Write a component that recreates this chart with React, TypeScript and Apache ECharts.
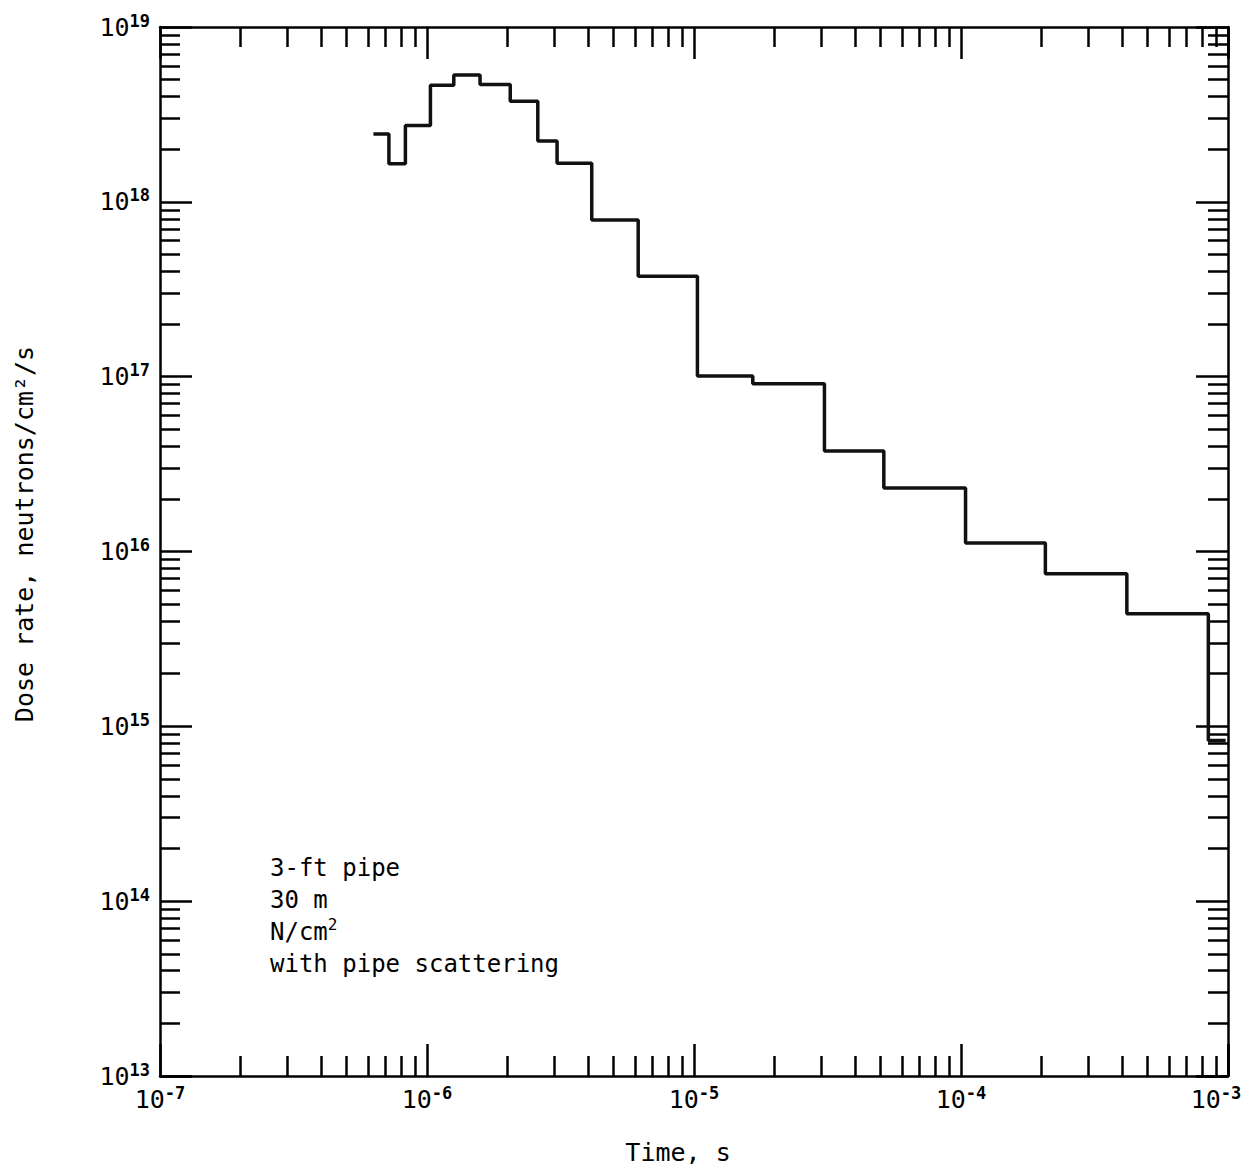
import React, { useEffect, useRef } from "react";
import * as echarts from "echarts";

// Step edges (time, s) and dose-rate level held between consecutive edges
const stepEdges = [
  6.3e-7, 7.2e-7, 8.3e-7, 1.03e-6, 1.26e-6, 1.58e-6, 2.05e-6, 2.6e-6, 3.07e-6,
  4.14e-6, 6.18e-6, 1.03e-5, 1.66e-5, 3.08e-5, 5.14e-5, 1.04e-4, 2.07e-4,
  4.18e-4, 8.44e-4, 9.8e-4,
];
const doseLevels = [
  2.44e18, 1.65e18, 2.73e18, 4.64e18, 5.31e18, 4.69e18, 3.76e18, 2.23e18,
  1.66e18, 7.87e17, 3.75e17, 1.01e17, 9.1e16, 3.76e16, 2.31e16, 1.12e16,
  7.45e15, 4.4e15, 8.3e14,
];

const xExponents = [-7, -6, -5, -4, -3];
const yExponents = [13, 14, 15, 16, 17, 18, 19];
const annotationLines = ["3-ft pipe", "30 m", "N/cm{sup|2}", "with pipe scattering"];
const xTitle = "Time, s";
const yTitle = "Dose rate, neutrons/cm²/s";

const FONT = "'DejaVu Sans Mono', 'Liberation Mono', monospace";

function powLabel(exps: number[], padLast: boolean) {
  const last = exps[exps.length - 1];
  return (v: number) => {
    const e = Math.round(Math.log10(v));
    if (exps.indexOf(e) < 0) return "";
    return padLast && e === last ? `{b|10}{s|${e}}{pad|}` : `{b|10}{s|${e}}`;
  };
}

const rich = {
  b: { fontFamily: FONT, fontSize: 25, color: "#000", lineHeight: 30 },
  s: {
    fontFamily: FONT,
    fontSize: 17,
    fontWeight: "bold",
    color: "#000",
    lineHeight: 15,
    verticalAlign: "top",
  },
  pad: { width: 24, lineHeight: 30 },
};

const lineCol = "#000";

function makeAxis(kind: "x" | "y", position: string, showLabels: boolean, exps: number[], min: number, max: number) {
  return {
    type: "log",
    logBase: 10,
    min,
    max,
    position,
    splitNumber: exps.length - 1,
    axisLine: { show: true, lineStyle: { color: lineCol, width: 2.5 } },
    axisTick: { show: true, inside: true, length: 32, lineStyle: { color: lineCol, width: 2.5 } },
    minorTick: { show: true, splitNumber: 9, length: 20, lineStyle: { color: lineCol, width: 2.5 } },
    splitLine: { show: false },
    minorSplitLine: { show: false },
    axisLabel: showLabels
      ? {
          show: true,
          margin: kind === "x" ? 8 : 10,
          formatter: powLabel(exps, kind === "x"),
          rich,
        }
      : { show: false },
  };
}

export default function App() {
  const ref = useRef<HTMLDivElement>(null);
  useEffect(() => {
    document.body.style.margin = "0";
    const chart = echarts.init(ref.current!, null, { renderer: "svg" });
    const data = stepEdges.map((x, i) => [x, doseLevels[Math.min(i, doseLevels.length - 1)]]);
    chart.setOption({
      animation: false,
      backgroundColor: "#fff",
      grid: {
        left: 160,
        top: 27,
        width: 1068,
        height: 1049,
        containLabel: false,
        outerBoundsMode: "none",
      },
      xAxis: [
        makeAxis("x", "bottom", true, xExponents, 1e-7, 1e-3),
        makeAxis("x", "top", false, xExponents, 1e-7, 1e-3),
      ],
      yAxis: [
        makeAxis("y", "left", true, yExponents, 1e13, 1e19),
        makeAxis("y", "right", false, yExponents, 1e13, 1e19),
      ],
      series: [
        {
          type: "line",
          xAxisIndex: 0,
          yAxisIndex: 0,
          step: "end",
          data,
          symbol: "none",
          lineStyle: { color: "#111", width: 3.5 },
        },
      ],
      graphic: [
        {
          type: "text",
          left: 270,
          top: 852,
          style: {
            text: annotationLines.join("\n"),
            font: `24px ${FONT}`,
            lineHeight: 32,
            fill: "#000",
            rich: {
              sup: {
                fontFamily: FONT,
                fontSize: 16,
                fill: "#000",
                lineHeight: 20,
                verticalAlign: "top",
              },
            },
          },
        },
        {
          type: "text",
          x: 24,
          y: 534,
          rotation: Math.PI / 2,
          style: {
            text: yTitle,
            font: `25px ${FONT}`,
            fill: "#000",
            align: "center",
            verticalAlign: "middle",
          },
        },
        {
          type: "text",
          x: 678,
          y: 1152,
          style: {
            text: xTitle,
            font: `25px ${FONT}`,
            fill: "#000",
            align: "center",
            verticalAlign: "middle",
          },
        },
      ],
    });
    return () => chart.dispose();
  }, []);
  return <div ref={ref} style={{ width: 1247, height: 1173, overflow: "hidden" }} />;
}
